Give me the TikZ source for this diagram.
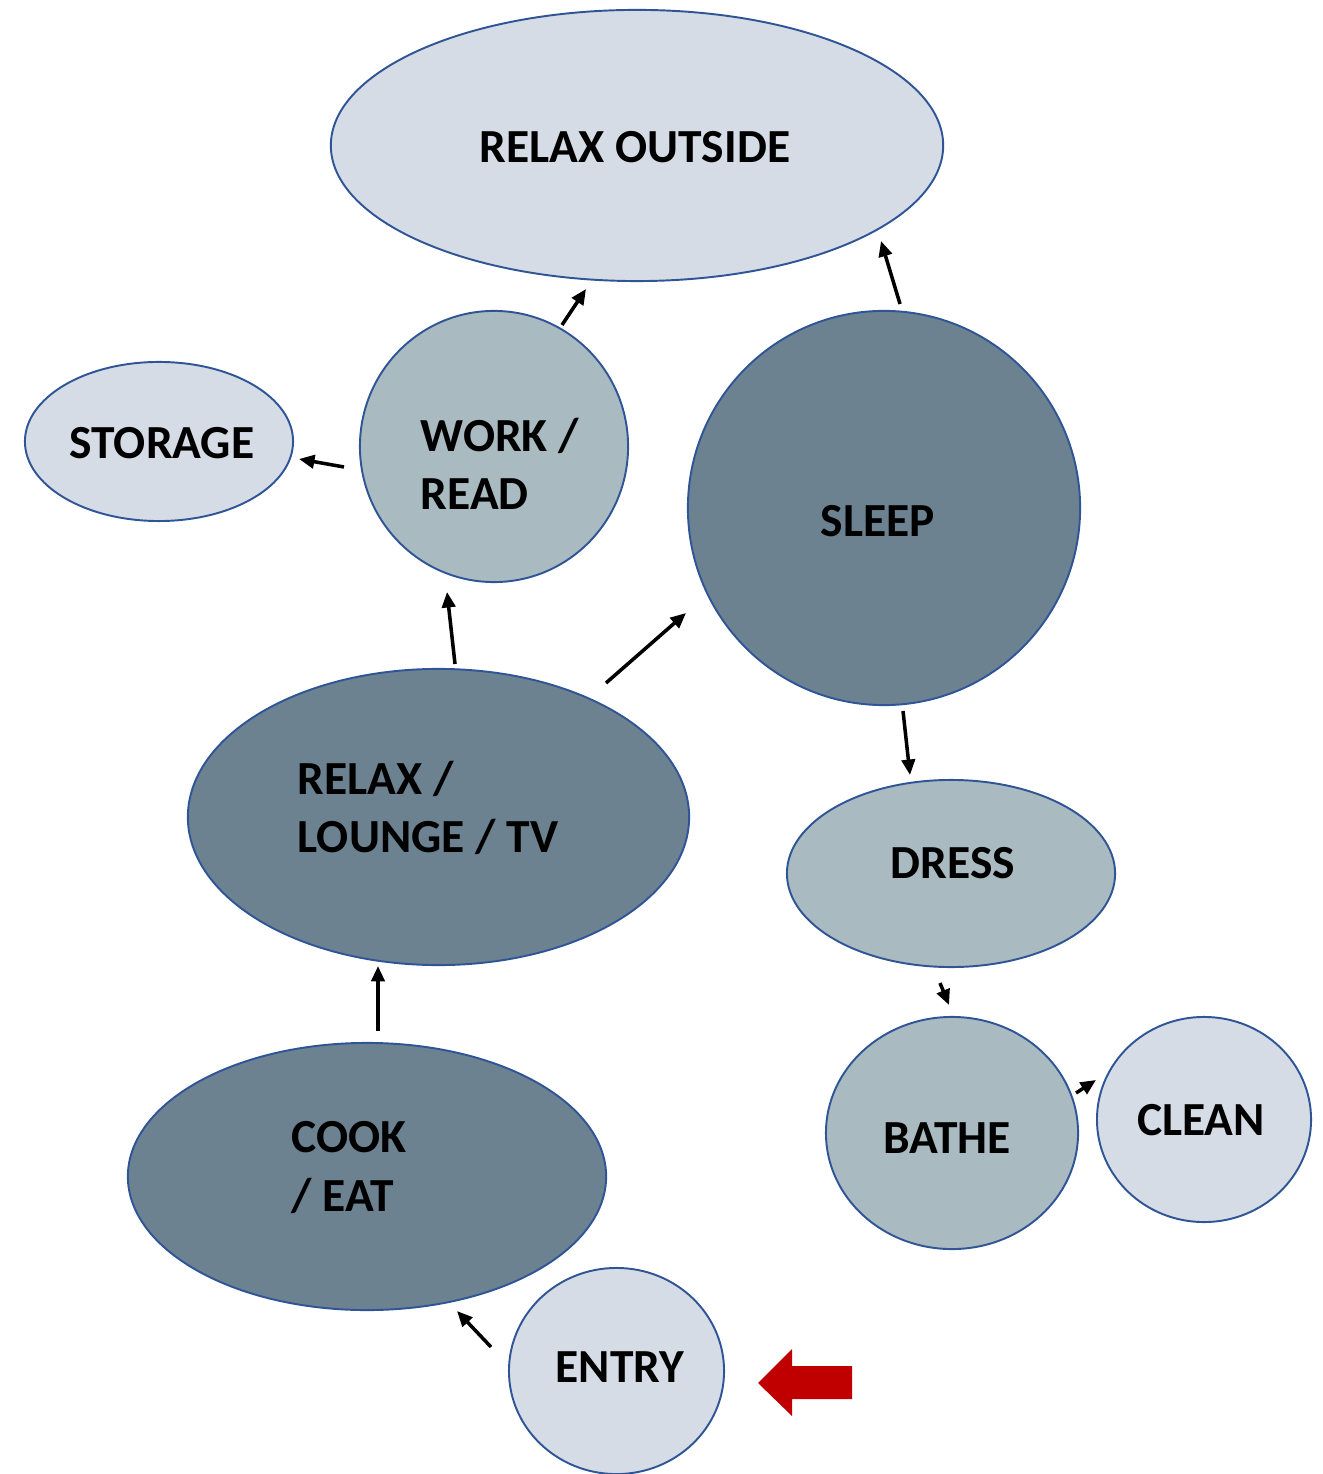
\documentclass[tikz,border=0pt]{standalone}
\usepackage{fontspec}
\setmainfont{Carlito}
\usetikzlibrary{shapes.geometric,arrows.meta}
\definecolor{lightfill}{HTML}{D6DCE5}
\definecolor{midfill}{HTML}{A9BAC1}
\definecolor{darkfill}{HTML}{6C8291}
\definecolor{edgeblue}{HTML}{2F5597}
\definecolor{redarrow}{HTML}{C00000}
\tikzset{
  zone/.style={ellipse, draw=edgeblue, line width=0.55pt, inner sep=0pt},
  light/.style={zone, fill=lightfill},
  mid/.style={zone, fill=midfill},
  dark/.style={zone, fill=darkfill},
  lbl/.style={inner sep=0pt, font=\fontsize{13.5}{16.5}\selectfont\bfseries, text=black},
  lbll/.style={lbl, anchor=west, align=left},
  arr/.style={line width=1pt, -{Triangle[length=4.4pt, width=3.8pt]}},
}
\begin{document}
\begin{tikzpicture}[x=0.01cm, y=-0.01cm]
\useasboundingbox (0,0) rectangle (1322,1474);
% zones
\node[light, minimum width=6.12cm, minimum height=2.71cm] (outside) at (637,145.5) {};
\node[light, minimum width=2.68cm, minimum height=1.59cm] (storage) at (159,441.5) {};
\node[mid, minimum width=2.68cm, minimum height=2.71cm] (work) at (494,446.5) {};
\node[dark, minimum width=3.92cm, minimum height=3.94cm] (sleep) at (884,508) {};
\node[dark, minimum width=5.01cm, minimum height=2.96cm] (lounge) at (438.5,817) {};
\node[mid, minimum width=3.28cm, minimum height=1.87cm] (dress) at (951,873.5) {};
\node[dark, minimum width=4.78cm, minimum height=2.67cm] (cook) at (367,1176.5) {};
\node[mid, minimum width=2.52cm, minimum height=2.32cm] (bathe) at (952,1133) {};
\node[light, minimum width=2.14cm, minimum height=2.05cm] (clean) at (1204,1119.5) {};
\node[light, minimum width=2.15cm, minimum height=2.06cm] (entry) at (616.5,1371) {};
% labels
\node[lbl] (tOutside) at (635,147) {RELAX OUTSIDE};
\node[lbl] (tStorage) at (162,443) {STORAGE};
\node[lbll] (tWork) at (420,463.5) {WORK /\\READ};
\node[lbl] (tSleep) at (878,521) {SLEEP};
\node[lbll] (tLounge) at (297,808) {RELAX /\\LOUNGE / TV};
\node[lbl] (tDress) at (953,863) {DRESS};
\node[lbll] (tCook) at (291,1167.5) {COOK\\/ EAT};
\node[lbl] (tBathe) at (947,1138) {BATHE};
\node[lbl] (tClean) at (1201,1120) {CLEAN};
\node[lbl] (tEntry) at (620,1367) {ENTRY};
% connector ends
\coordinate (w2oT) at (562,325);   \coordinate (w2oH) at (586,289);
\coordinate (s2oT) at (900,304);   \coordinate (s2oH) at (881,241);
\coordinate (w2sT) at (344,467);   \coordinate (w2sH) at (299,459);
\coordinate (l2wT) at (455,664);   \coordinate (l2wH) at (447,592);
\coordinate (l2sT) at (606,683);   \coordinate (l2sH) at (686,613);
\coordinate (s2dT) at (903,711);   \coordinate (s2dH) at (910,775);
\coordinate (d2bT) at (940,983);   \coordinate (d2bH) at (949,1005);
\coordinate (b2cT) at (1076,1093); \coordinate (b2cH) at (1096,1080);
\coordinate (c2lT) at (378,1031);  \coordinate (c2lH) at (378,966);
\coordinate (e2cT) at (491,1347);  \coordinate (e2cH) at (457,1311);
% connectors
\draw[arr] (w2oT) -- (w2oH);
\draw[arr] (s2oT) -- (s2oH);
\draw[arr] (w2sT) -- (w2sH);
\draw[arr] (l2wT) -- (l2wH);
\draw[arr] (l2sT) -- (l2sH);
\draw[arr] (s2dT) -- (s2dH);
\draw[arr] (d2bT) -- (d2bH);
\draw[arr] (b2cT) -- (b2cH);
\draw[arr] (c2lT) -- (c2lH);
\draw[arr] (e2cT) -- (e2cH);
% red entry arrow
\fill[redarrow] (758,1383) -- (792,1349) -- (792,1366) -- (852,1366) -- (852,1399) -- (792,1399) -- (792,1416) -- cycle;
\end{tikzpicture}
\end{document}
